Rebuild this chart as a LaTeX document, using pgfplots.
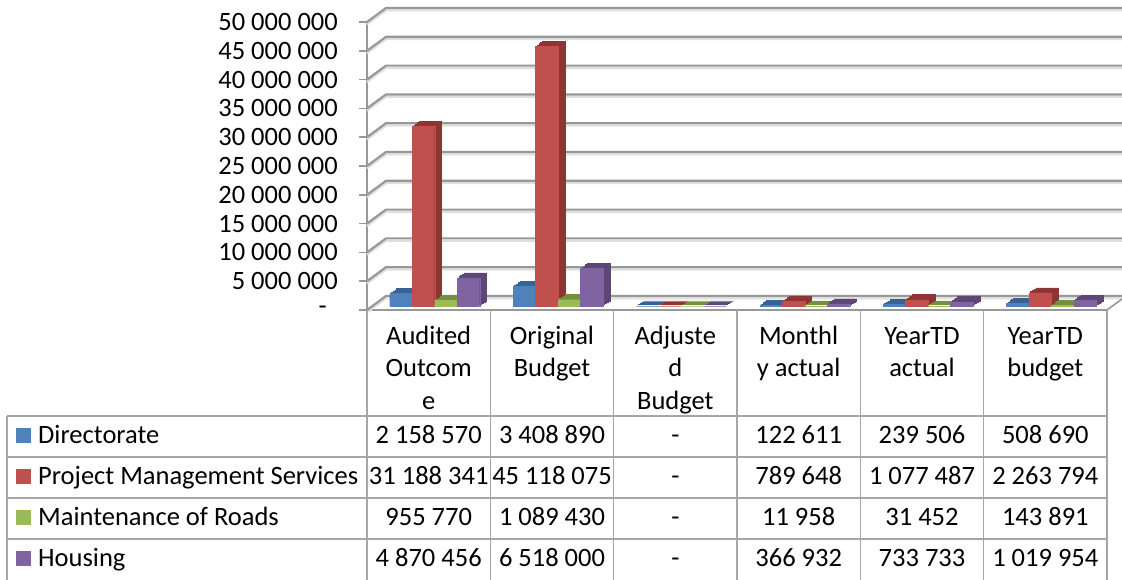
\documentclass[border=0pt]{standalone}
\usepackage{pgfplots}
\pgfplotsset{compat=1.18}
\usepackage{pgfplotstable}
\usepackage{fontspec}
\setmainfont{Carlito}
\definecolor{cBlue}{HTML}{4F81BD}
\definecolor{cRed}{HTML}{C0504D}
\definecolor{cGreen}{HTML}{9BBB59}
\definecolor{cPurple}{HTML}{8064A2}
\definecolor{dBlue}{HTML}{3A6194}
\definecolor{dRed}{HTML}{8E3432}
\definecolor{dGreen}{HTML}{74903E}
\definecolor{dPurple}{HTML}{5C4777}
\definecolor{gridc}{HTML}{989898}
\definecolor{tablec}{HTML}{A6A6A6}

\pgfplotstableread{
x dir pms mor hou
0.5 2158570 31188341 955770 4870456
1.5 3408890 45118075 1089430 6518000
2.5 0 0 0 0
3.5 122611 789648 11958 366932
4.5 239506 1077487 31452 733733
5.5 508690 2263794 143891 1019954
}\datatable

\newcommand{\fs}{\fontsize{26.5}{32.5}\selectfont}
\newcommand{\ts}{\rule{0pt}{20pt}}

\newcommand{\threedbar}[4]{%
 \addplot[ybar, bar width=22.5pt, bar shift=#2pt, fill=#4, draw=#4, line width=0.6pt, xshift=1.75pt, yshift=5.25pt] table[x=x,y=#1]{\datatable};
 \addplot[ybar, bar width=22.5pt, bar shift=#2pt, fill=#4, draw=#4, line width=0.6pt, xshift=3.5pt, yshift=6.5pt] table[x=x,y=#1]{\datatable};
 \addplot[ybar, bar width=22.5pt, bar shift=#2pt, fill=#4, draw=#4, line width=0.6pt, xshift=5.25pt, yshift=7.75pt] table[x=x,y=#1]{\datatable};
 \addplot[ybar, bar width=22.5pt, bar shift=#2pt, fill=#4, draw=#4, line width=0.6pt, xshift=7pt, yshift=9pt] table[x=x,y=#1]{\datatable};
 \addplot[ybar, bar width=22.5pt, bar shift=#2pt, fill=#3, draw=#3, line width=0.3pt, yshift=4pt] table[x=x,y=#1]{\datatable};
}

\begin{document}
\begin{tikzpicture}[x=1pt,y=1pt]
\useasboundingbox (0,0) rectangle (1122,579);
\begin{axis}[
  at={(367pt,269pt)}, anchor=south west,
  scale only axis, width=740pt, height=288pt,
  xmin=0, xmax=6, ymin=0, ymax=50000000,
  clip=false, scaled y ticks=false,
  axis x line*=bottom, axis y line*=left,
  axis line style={-, draw=gridc, line width=1.6pt},
  xtick={0.5,1.5,2.5,3.5,4.5,5.5},
  xticklabels={{\ts Audited\\Outcom\\e},{\ts Original\\Budget},{\ts Adjuste\\d\\Budget},{\ts Monthl\\y actual},{\ts YearTD\\actual},{\ts YearTD\\budget}},
  x tick style={draw=none},
  xticklabel style={font=\fs, align=center, anchor=north, inner sep=0pt, yshift=-6pt},
  ytick={0,5000000,10000000,15000000,20000000,25000000,30000000,35000000,40000000,45000000,50000000},
  yticklabels={{-\hspace*{11pt}},{5 000 000},{10 000 000},{15 000 000},{20 000 000},{25 000 000},{30 000 000},{35 000 000},{40 000 000},{45 000 000},{50 000 000}},
  y tick style={draw=gridc, line width=1.6pt},
  tick align=outside, major tick length=8pt,
  yticklabel style={font=\fs, anchor=east, inner sep=0pt, xshift=-21pt},
  /pgf/number format/assume math mode=true,
]
\pgfplotsinvokeforeach{0,5000000,10000000,15000000,20000000,25000000,30000000,35000000,40000000,45000000,50000000}{
  \draw[black!13, line width=2pt] ([yshift=-2.4pt]axis cs:0,#1) -- ++(19pt,14pt) -- ([shift={(19pt,11.6pt)}]axis cs:6.2,#1);
  \draw[gridc, line width=2.2pt] (axis cs:0,#1) -- ++(19pt,14pt) -- ([shift={(19pt,14pt)}]axis cs:6.2,#1);
}
\draw[gridc, line width=1.6pt] (axis cs:6,0) -- ++(19pt,14pt);
\threedbar{dir}{-27.75}{cBlue}{dBlue}
\threedbar{pms}{-5.25}{cRed}{dRed}
\threedbar{mor}{17.25}{cGreen}{dGreen}
\threedbar{hou}{39.75}{cPurple}{dPurple}
\end{axis}
% table
\begin{scope}[tablec, line width=1.5pt]
\foreach \y in {416,457,498,539} \draw (7,579-\y) -- (1107,579-\y);
\draw (7,579-416) -- (7,-5);
\foreach \k in {0,...,6} \draw (367+123.333*\k,579-310) -- (367+123.333*\k,-5);
\end{scope}
\fill[cBlue] (16,579-443) rectangle (31,579-428);
\fill[cRed] (16,579-484) rectangle (31,579-469);
\fill[cGreen] (16,579-525) rectangle (31,579-510);
\fill[cPurple] (16,579-566) rectangle (31,579-551);
\begin{scope}[every node/.style={font=\fs, inner sep=0pt}]
\node[anchor=base west] at (38,579-443) {Directorate};
\node[anchor=base west] at (38,579-484) {Project Management Services};
\node[anchor=base west] at (38,579-525) {Maintenance of Roads};
\node[anchor=base west] at (38,579-566) {Housing};
\foreach \a/\b/\c/\d/\e/\f [count=\r from 0] in {
  2 158 570/3 408 890/-/122 611/239 506/508 690,
  31 188 341/45 118 075/-/789 648/1 077 487/2 263 794,
  955 770/1 089 430/-/11 958/31 452/143 891,
  4 870 456/6 518 000/-/366 932/733 733/1 019 954}{
  \node[anchor=base] at (428.7,579-443-41*\r) {\a};
  \node[anchor=base] at (552,579-443-41*\r) {\b};
  \node[anchor=base] at (675.3,579-443-41*\r) {\c};
  \node[anchor=base] at (798.7,579-443-41*\r) {\d};
  \node[anchor=base] at (922,579-443-41*\r) {\e};
  \node[anchor=base] at (1045.3,579-443-41*\r) {\f};
}
\end{scope}
\end{tikzpicture}
\end{document}
